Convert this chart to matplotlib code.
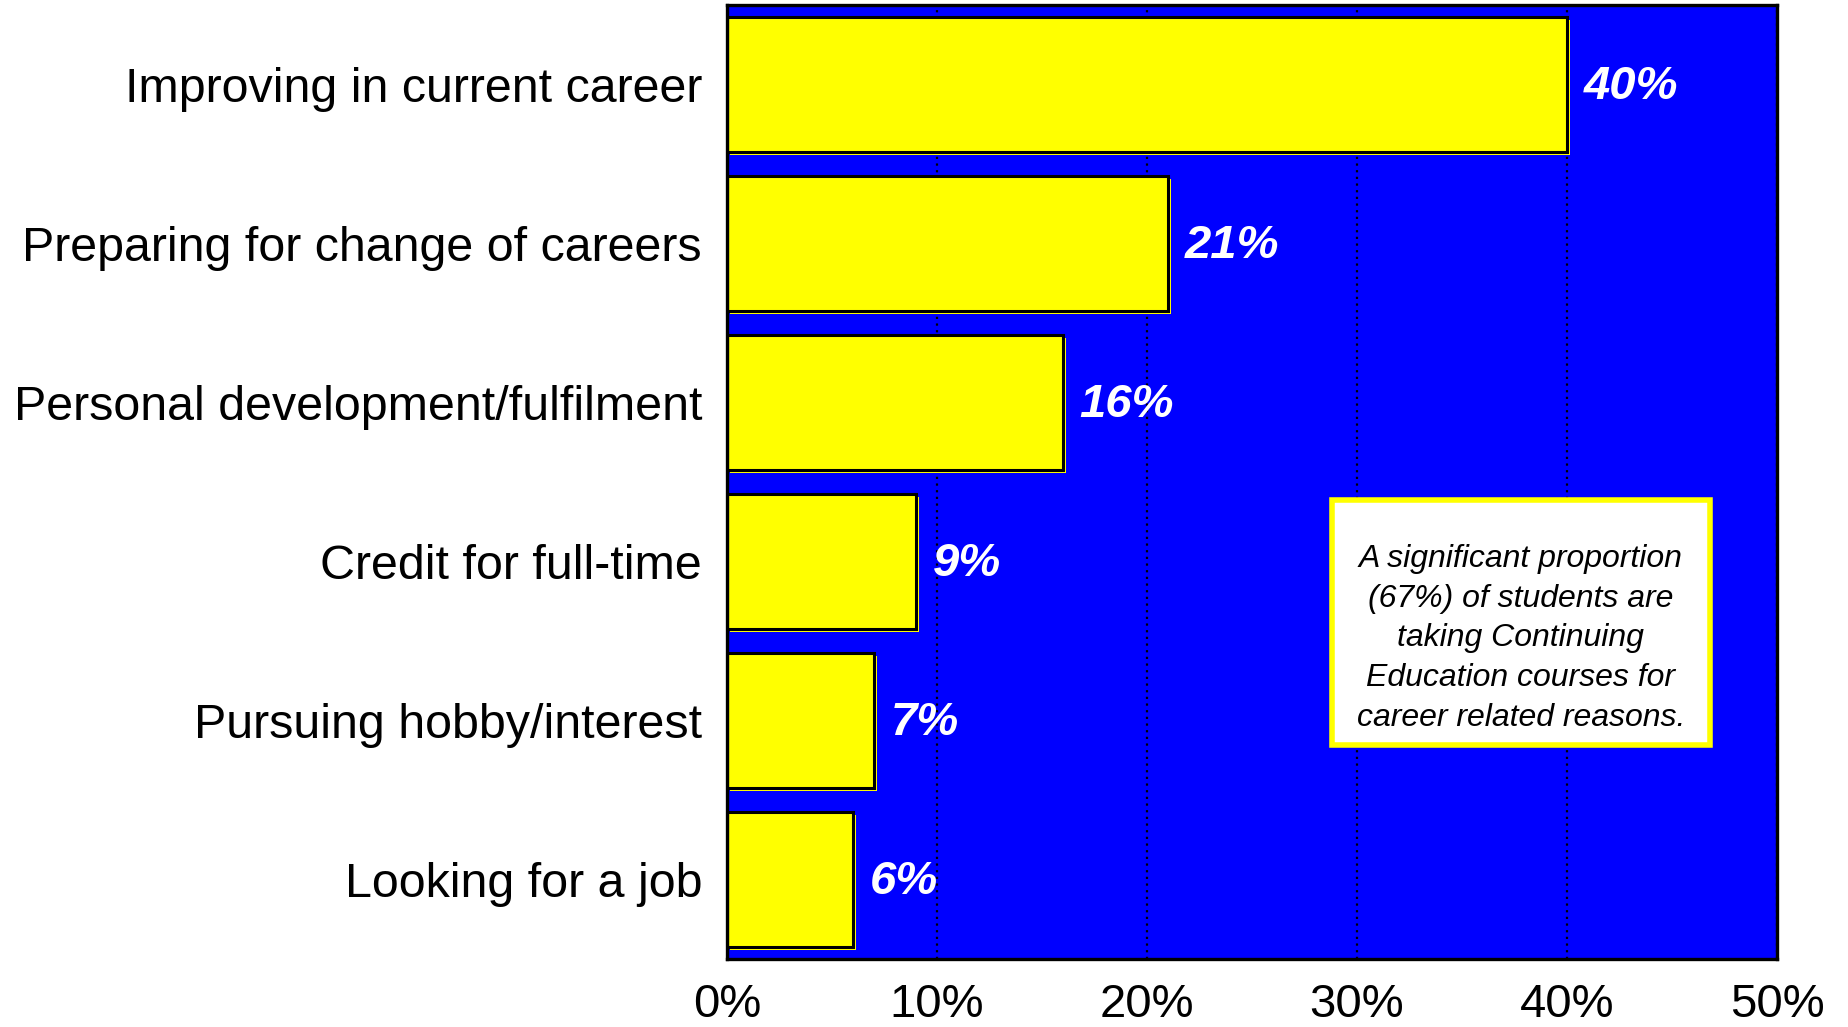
import matplotlib
matplotlib.use("Agg")
import matplotlib.pyplot as plt
import matplotlib.patheffects as pe
from matplotlib.patches import Rectangle
from matplotlib.ticker import FuncFormatter

plt.rcParams['font.family'] = ['Liberation Sans', 'DejaVu Sans']

categories = [
    "Improving in current career",
    "Preparing for change of careers",
    "Personal development/fulfilment",
    "Credit for full-time",
    "Pursuing hobby/interest",
    "Looking for a job",
]
values = [40, 21, 16, 9, 7, 6]
x_ticks = [0, 10, 20, 30, 40, 50]
note = ("A significant proportion\n(67%) of students are\ntaking Continuing\n"
        "Education courses for\ncareer related reasons.")

fig = plt.figure(figsize=(18.48, 10.27), dpi=100)
ax = fig.add_axes([0.3934, 0.0662, 0.9616 - 0.3934, 0.9951 - 0.0662])
ax.set_facecolor('#0000FF')

ypos = list(range(len(categories)))
bars = ax.barh(ypos, values, height=0.85, color='#FFFF00', edgecolor='black',
               linewidth=2.2, zorder=3)
for b in bars:
    b.set_path_effects([
        pe.SimplePatchShadow(offset=(2, -2), shadow_rgbFace='#FFFF00', alpha=1),
        pe.Normal(),
    ])

ax.set_xlim(0, 50)
ax.set_ylim(len(categories) - 0.5, -0.5)
ax.set_xticks(x_ticks)
ax.xaxis.set_major_formatter(FuncFormatter(lambda v, p: f"{v:.0f}%"))
ax.set_yticks(ypos)
ax.set_yticklabels(categories)
for lbl in ax.get_yticklabels():
    lbl.set_y(lbl.get_position()[1])
ax.tick_params(axis='x', length=0, pad=17, labelsize=34)
ax.tick_params(axis='y', length=0, pad=18, labelsize=34.8)

ax.grid(axis='x', color='black', linestyle=(0, (1, 2)), linewidth=1.6, zorder=1)
ax.set_axisbelow(True)
for s in ax.spines.values():
    s.set_linewidth(2.4)
    s.set_color('black')
    s.set_zorder(5)

for y, v in zip(ypos, values):
    ax.annotate(f"{v}%", xy=(v, y), xytext=(12, -2), textcoords='offset points',
                ha='left', va='center', color='white', fontsize=34,
                fontweight='bold', fontstyle='italic', zorder=4)

box = Rectangle((0.576, 0.224), 0.936 - 0.576, 0.481 - 0.224, transform=ax.transAxes,
                facecolor='white', edgecolor='#FFFF00', linewidth=4, zorder=6)
ax.add_patch(box)
ax.text(0.756, 0.336, note, transform=ax.transAxes, ha='center', va='center',
        fontsize=23, fontstyle='italic', color='black', linespacing=1.42, zorder=7)

fig.savefig("out.png", dpi=100)
